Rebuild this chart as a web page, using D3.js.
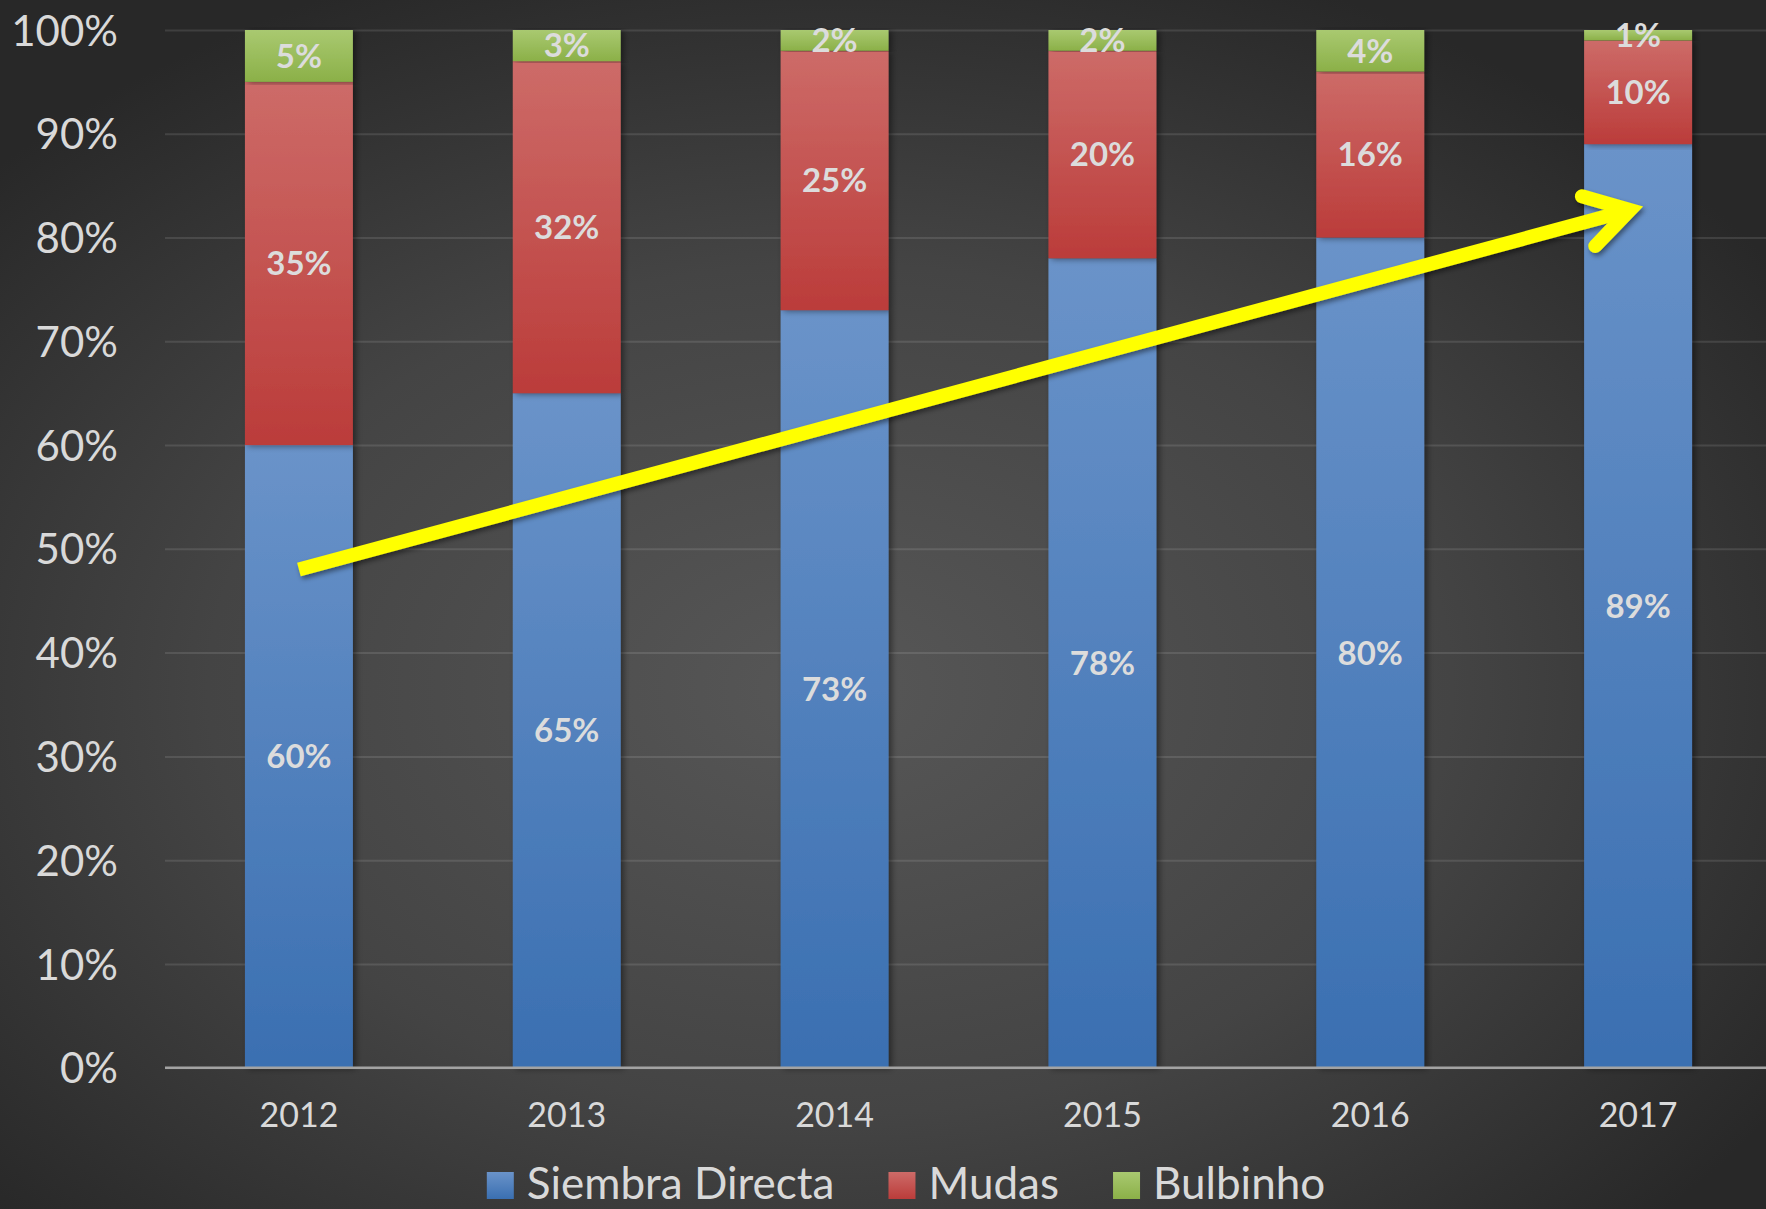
<!DOCTYPE html>
<html>
<head>
<meta charset="utf-8">
<script src="https://cdn.jsdelivr.net/npm/d3@7"></script>
<style>
  html, body { margin: 0; padding: 0; background: #2b2b2b; }
  svg { display: block; }
</style>
</head>
<body>
<svg id="chart" width="1766" height="1209"></svg>
<script>
// ---------- data ----------
const years = ["2012", "2013", "2014", "2015", "2016", "2017"];
const seriesNames = ["Siembra Directa", "Mudas", "Bulbinho"];
const siembraDirecta = [0.60, 0.65, 0.73, 0.78, 0.80, 0.89];
const mudas = [0.35, 0.32, 0.25, 0.20, 0.16, 0.10];
const bulbinho = [0.05, 0.03, 0.02, 0.02, 0.04, 0.01];
const yTicks = [0, 0.1, 0.2, 0.3, 0.4, 0.5, 0.6, 0.7, 0.8, 0.9, 1.0];
// trend arrow annotation, in data terms
const arrowFrom = { year: "2012", value: 0.48 };
const arrowTo = { year: "2017", value: 0.83 };

const rows = years.map((yr, i) => ({
  year: yr,
  "Siembra Directa": siembraDirecta[i],
  "Mudas": mudas[i],
  "Bulbinho": bulbinho[i]
}));

// ---------- layout ----------
const W = 1766, H = 1209;
const plotLeft = 165, plotRight = 1772, plotTop = 30, plotBottom = 1067.7;
const FONT = "Lato, 'Open Sans', 'Noto Sans', sans-serif";

const svg = d3.select("#chart");
const defs = svg.append("defs");

// background radial gradient
const bg = defs.append("radialGradient").attr("id", "bgGrad")
  .attr("cx", "47%").attr("cy", "57%").attr("r", "64%");
bg.append("stop").attr("offset", "0%").attr("stop-color", "#575757");
bg.append("stop").attr("offset", "55%").attr("stop-color", "#444444");
bg.append("stop").attr("offset", "100%").attr("stop-color", "#282828");
svg.append("rect").attr("width", W).attr("height", H).attr("fill", "url(#bgGrad)");

// bar gradients
const colorStops = {
  "Siembra Directa": ["#6a93c9", "#3a6fb1"],
  "Mudas": ["#cd6b68", "#bb3c3a"],
  "Bulbinho": ["#a9c970", "#8bb048"]
};
const gradId = name => "g_" + name.replace(/\s+/g, "");
seriesNames.forEach(name => {
  const g = defs.append("linearGradient").attr("id", gradId(name))
    .attr("x1", 0).attr("y1", 0).attr("x2", 0).attr("y2", 1);
  g.append("stop").attr("offset", "0%").attr("stop-color", colorStops[name][0]);
  g.append("stop").attr("offset", "100%").attr("stop-color", colorStops[name][1]);
});

// shadows
const shBar = defs.append("filter").attr("id", "barShadow")
  .attr("x", "-20%").attr("y", "-5%").attr("width", "140%").attr("height", "110%");
shBar.append("feDropShadow").attr("dx", 3).attr("dy", 1).attr("stdDeviation", 3)
  .attr("flood-color", "#000").attr("flood-opacity", 0.45);
const shArrow = defs.append("filter").attr("id", "arrowShadow")
  .attr("x", "-10%").attr("y", "-30%").attr("width", "120%").attr("height", "160%");
shArrow.append("feDropShadow").attr("dx", 2).attr("dy", 3).attr("stdDeviation", 2.5)
  .attr("flood-color", "#000").attr("flood-opacity", 0.45);

// ---------- scales ----------
const x = d3.scaleBand().domain(years).range([plotLeft, plotRight])
  .paddingInner(0.597).paddingOuter(0.2985);
const y = d3.scaleLinear().domain([0, 1]).range([plotBottom, plotTop]);

// ---------- gridlines ----------
const grid = svg.append("g").attr("transform", `translate(${plotLeft},0)`)
  .call(d3.axisLeft(y).tickValues(yTicks).tickSize(-(W - plotLeft)).tickFormat(""));
grid.select(".domain").remove();
grid.selectAll(".tick line")
  .attr("stroke", "rgba(255,255,255,0.11)").attr("stroke-width", 2);

// ---------- y axis labels ----------
const yAxis = svg.append("g").attr("transform", `translate(${plotLeft},0)`)
  .call(d3.axisLeft(y).tickValues(yTicks).tickSize(0).tickPadding(47)
    .tickFormat(d3.format(".0%")));
yAxis.select(".domain").remove();
yAxis.selectAll("text")
  .attr("fill", "#d9d9d9").attr("font-family", FONT).attr("font-size", 42)
  .attr("dy", "0.36em");

// ---------- bars ----------
const stacked = d3.stack().keys(seriesNames)(rows);
const layers = svg.append("g").selectAll("g.layer").data(stacked).join("g")
  .attr("class", "layer");
layers.selectAll("rect").data(d => d.map(p => ({ p, key: d.key }))).join("rect")
  .attr("x", d => x(d.p.data.year))
  .attr("width", x.bandwidth())
  .attr("y", d => y(d.p[1]))
  .attr("height", d => y(d.p[0]) - y(d.p[1]))
  .attr("fill", d => `url(#${gradId(d.key)})`)
  .attr("filter", "url(#barShadow)");

// ---------- baseline ----------
svg.append("line")
  .attr("x1", plotLeft).attr("x2", W)
  .attr("y1", y(0)).attr("y2", y(0))
  .attr("stroke", "#a3a3a3").attr("stroke-width", 2.5);

// ---------- data labels ----------
const labelG = svg.append("g");
stacked.forEach(layer => {
  layer.forEach(p => {
    labelG.append("text")
      .attr("x", x(p.data.year) + x.bandwidth() / 2)
      .attr("y", y((p[0] + p[1]) / 2))
      .attr("dy", "0.36em")
      .attr("text-anchor", "middle")
      .attr("font-family", FONT).attr("font-weight", 700).attr("font-size", 33)
      .attr("fill", "#dcdcdc")
      .text(d3.format(".0%")(p[1] - p[0]));
  });
});

// ---------- x axis labels ----------
const xAxis = svg.append("g").attr("transform", `translate(0,${y(0)})`)
  .call(d3.axisBottom(x).tickSize(0).tickPadding(0));
xAxis.select(".domain").remove();
xAxis.selectAll("text")
  .attr("fill", "#d9d9d9").attr("font-family", FONT).attr("font-size", 34)
  .attr("dy", null).attr("y", 59);

// ---------- trend arrow ----------
const ax0 = x(arrowFrom.year) + x.bandwidth() / 2, ay0 = y(arrowFrom.value);
const ax1 = x(arrowTo.year) + x.bandwidth() / 2 + 5, ay1 = y(arrowTo.value);
const dxA = ax1 - ax0, dyA = ay1 - ay0, len = Math.hypot(dxA, dyA);
const ux = dxA / len, uy = dyA / len;
const sw = 14, half = 31 * Math.PI / 180, armLen = 50;
const miter = (sw / 2) / Math.sin(half);
const vx = ax1 - miter * ux, vy = ay1 - miter * uy;
const rot = (a) => {
  const rx = -ux, ry = -uy;
  return [rx * Math.cos(a) - ry * Math.sin(a), rx * Math.sin(a) + ry * Math.cos(a)];
};
const r1 = rot(half), r2 = rot(-half);
const arrowG = svg.append("g").attr("filter", "url(#arrowShadow)");
arrowG.append("line")
  .attr("x1", ax0).attr("y1", ay0).attr("x2", vx).attr("y2", vy)
  .attr("stroke", "#ffff00").attr("stroke-width", sw).attr("stroke-linecap", "butt");
arrowG.append("path")
  .attr("d", `M${vx + r1[0] * armLen},${vy + r1[1] * armLen}L${vx},${vy}L${vx + r2[0] * armLen},${vy + r2[1] * armLen}`)
  .attr("fill", "none").attr("stroke", "#ffff00").attr("stroke-width", sw)
  .attr("stroke-linecap", "round").attr("stroke-linejoin", "miter").attr("stroke-miterlimit", 10);

// ---------- legend ----------
const legend = svg.append("g");
const sw0 = 27, gapText = 13, gapItem = 54, legendBase = 1199, legendCenter = 906;
const items = legend.selectAll("g").data(seriesNames).join("g");
items.append("rect").attr("width", sw0).attr("height", sw0)
  .attr("y", legendBase - sw0)
  .attr("fill", d => `url(#${gradId(d)})`);
items.append("text")
  .attr("x", sw0 + gapText).attr("y", legendBase)
  .attr("fill", "#d9d9d9").attr("font-family", FONT).attr("font-size", 44)
  .text(d => d);
let cursor = 0;
const offsets = [];
items.each(function () {
  const tw = d3.select(this).select("text").node().getComputedTextLength();
  offsets.push(cursor);
  cursor += sw0 + gapText + tw + gapItem;
});
const totalW = cursor - gapItem;
const startX = legendCenter - totalW / 2;
items.attr("transform", (d, i) => `translate(${startX + offsets[i]},0)`);
</script>
</body>
</html>
